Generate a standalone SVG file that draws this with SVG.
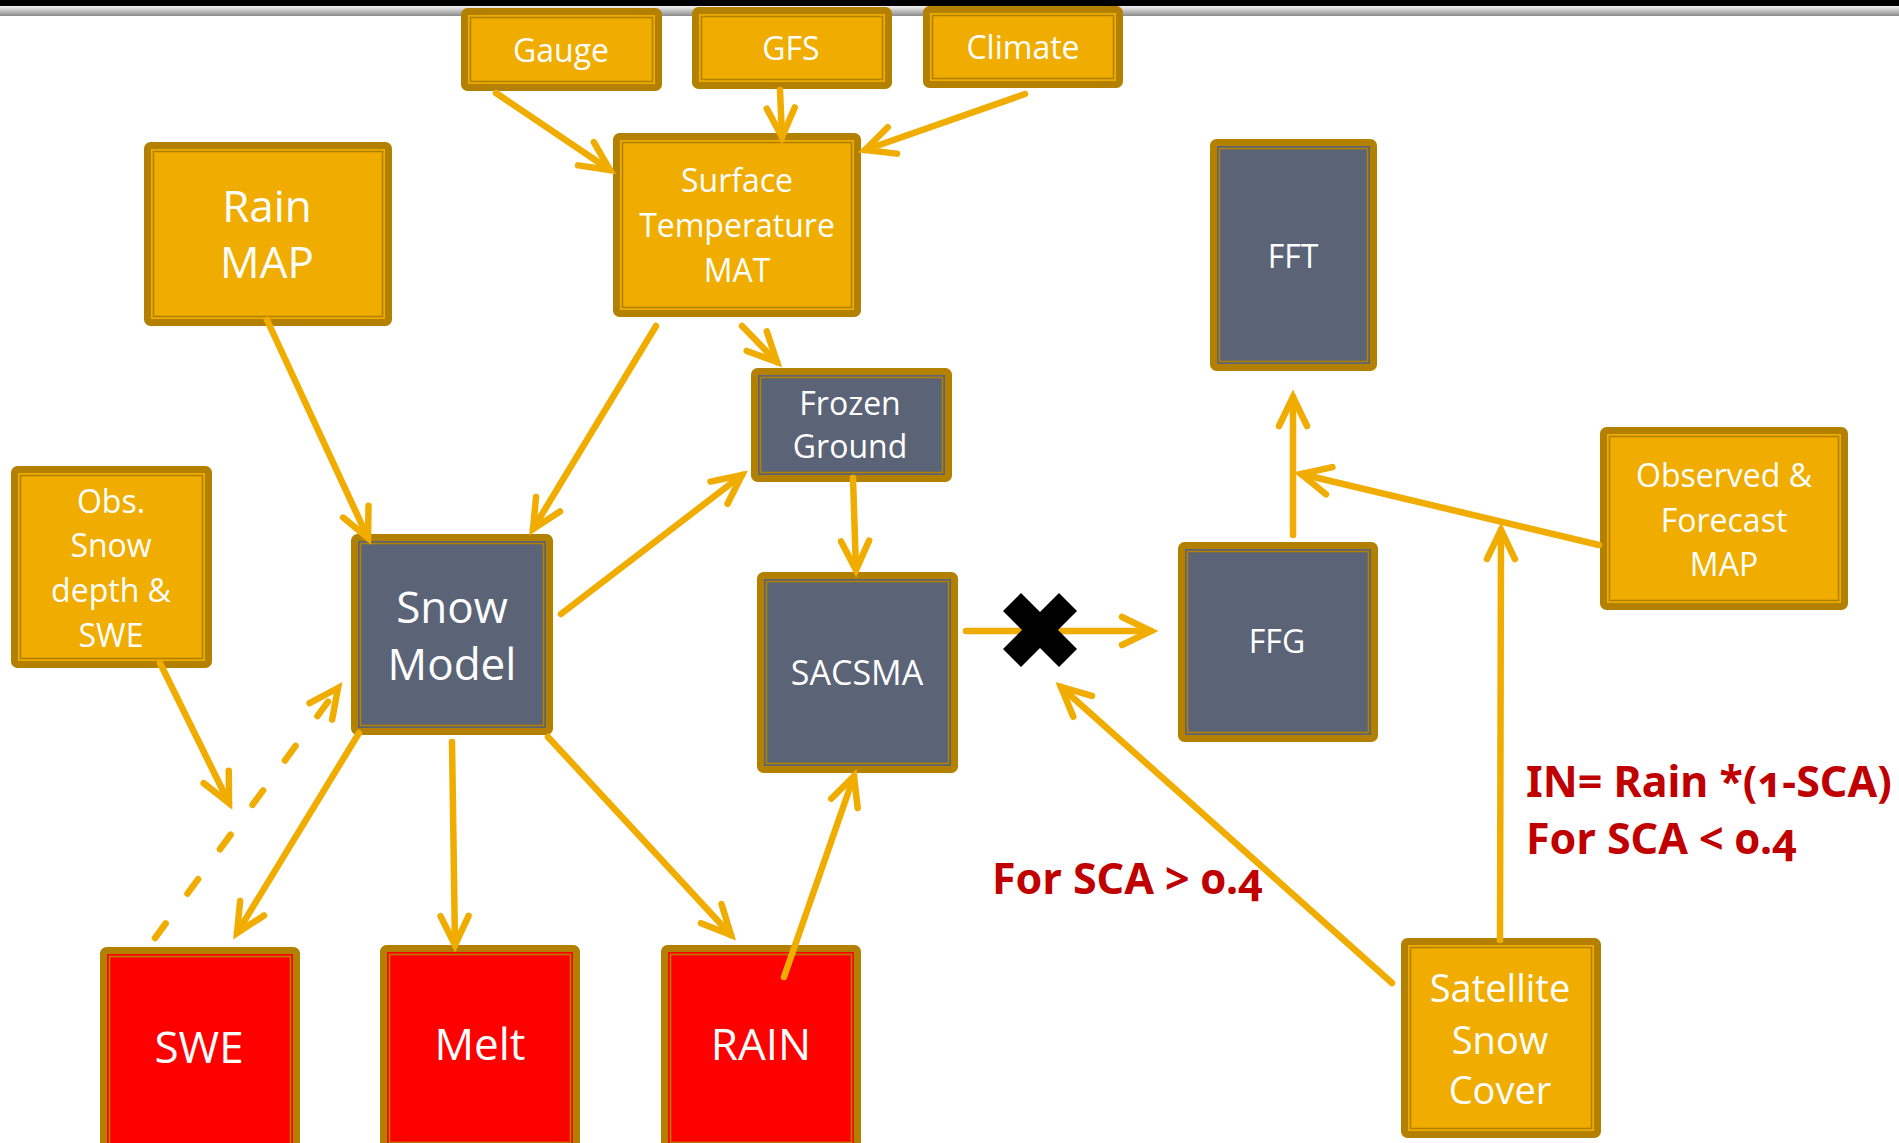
<svg xmlns="http://www.w3.org/2000/svg" width="1899" height="1143" viewBox="0 0 1899 1143">
<style>
.ob{stroke:#B38000;stroke-width:7}
.fo{fill:#F0AD00}.fg{fill:#5B6377}.fr{fill:#FF0000}
.in{fill:none;stroke:#B38000;stroke-width:1.6}
.t{font-family:"Open Sans","Noto Sans",sans-serif;fill:#FFFFFF;text-anchor:middle}
.s32{font-size:32px}.s34{font-size:34px}.s38{font-size:38px}.s44{font-size:44px}
.c{fill:none;stroke:#F0AD00;stroke-width:6.5;stroke-linecap:round;marker-end:url(#ah)}
.d{stroke-dasharray:18 37}
.lbl{font-family:"Noto Sans","Open Sans",sans-serif;font-weight:bold;fill:#C00000;font-size:43px;font-variant-numeric:oldstyle-nums}
</style>
<defs>
<linearGradient id="sh" x1="0" y1="0" x2="0" y2="1">
<stop offset="0" stop-color="#f4f4f4"/>
<stop offset="1" stop-color="#8a8a8a"/>
</linearGradient>
<marker id="ah" markerUnits="userSpaceOnUse" viewBox="-45 -30 60 60" refX="0" refY="0" markerWidth="60" markerHeight="60" orient="auto" overflow="visible">
<path d="M -29 -14 L 0 0 L -29 14" fill="none" stroke="#F0AD00" stroke-width="6.5" stroke-linecap="round" stroke-linejoin="miter"/>
</marker>
</defs>
<rect x="0" y="0" width="1899" height="1143" fill="#FFFFFF"/>
<rect x="0" y="6" width="1899" height="10" fill="url(#sh)"/>
<rect x="0" y="0" width="1899" height="6" fill="#000000"/>

<g id="gauge"><rect class="ob fo" x="464.5" y="11.5" width="194" height="76" rx="3"/><rect class="in" x="470.5" y="17.5" width="182" height="64"/><text class="t s32" x="561" y="62">Gauge</text></g>
<g id="gfs"><rect class="ob fo" x="695.5" y="10.5" width="193" height="75" rx="3"/><rect class="in" x="701.5" y="16.5" width="181" height="63"/><text class="t s32" x="791" y="60">GFS</text></g>
<g id="climate"><rect class="ob fo" x="926.5" y="9.5" width="193" height="75" rx="3"/><rect class="in" x="932.5" y="15.5" width="181" height="63"/><text class="t s32" x="1023" y="59">Climate</text></g>
<g id="surface"><rect class="ob fo" x="616.5" y="136.5" width="241" height="177" rx="3"/><rect class="in" x="622.5" y="142.5" width="229" height="165"/><text class="t s32" x="737" y="192">Surface</text><text class="t s32" x="737" y="237">Temperature</text><text class="t s32" x="737" y="282">MAT</text></g>
<g id="rainmap"><rect class="ob fo" x="147.5" y="145.5" width="241" height="177" rx="3"/><rect class="in" x="153.5" y="151.5" width="229" height="165"/><text class="t s44" x="267" y="222">Rain</text><text class="t s44" x="267" y="278">MAP</text></g>
<g id="fft"><rect class="ob fg" x="1213.5" y="142.5" width="160" height="225" rx="3"/><rect class="in" x="1219.5" y="148.5" width="148" height="213"/><text class="t s32" x="1293" y="268">FFT</text></g>
<g id="frozen"><rect class="ob fg" x="754.5" y="371.5" width="194" height="107" rx="3"/><rect class="in" x="760.5" y="377.5" width="182" height="95"/><text class="t s32" x="850" y="415">Frozen</text><text class="t s32" x="850" y="458">Ground</text></g>
<g id="obs"><rect class="ob fo" x="14.5" y="469.5" width="194" height="195" rx="3"/><rect class="in" x="20.5" y="475.5" width="182" height="183"/><text class="t s32" x="111" y="513">Obs.</text><text class="t s32" x="111" y="557">Snow</text><text class="t s32" x="111" y="602">depth &amp;</text><text class="t s32" x="111" y="647">SWE</text></g>
<g id="snowmodel"><rect class="ob fg" x="354.5" y="537.5" width="195" height="194" rx="3"/><rect class="in" x="360.5" y="543.5" width="183" height="182"/><text class="t s44" x="452" y="623">Snow</text><text class="t s44" x="452" y="680">Model</text></g>
<g id="sacsma"><rect class="ob fg" x="760.5" y="575.5" width="194" height="194" rx="3"/><rect class="in" x="766.5" y="581.5" width="182" height="182"/><text class="t s34" x="857" y="685">SACSMA</text></g>
<g id="ffg"><rect class="ob fg" x="1181.5" y="545.5" width="193" height="193" rx="3"/><rect class="in" x="1187.5" y="551.5" width="181" height="181"/><text class="t s32" x="1277" y="653">FFG</text></g>
<g id="observed"><rect class="ob fo" x="1603.5" y="430.5" width="241" height="176" rx="3"/><rect class="in" x="1609.5" y="436.5" width="229" height="164"/><text class="t s32" x="1724" y="487">Observed &amp;</text><text class="t s32" x="1724" y="532">Forecast</text><text class="t s32" x="1724" y="576">MAP</text></g>
<g id="satellite"><rect class="ob fo" x="1404.5" y="941.5" width="193" height="193" rx="3"/><rect class="in" x="1410.5" y="947.5" width="181" height="181"/><text class="t s38" x="1500" y="1002">Satellite</text><text class="t s38" x="1500" y="1054">Snow</text><text class="t s38" x="1500" y="1104">Cover</text></g>
<g id="swe"><rect class="ob fr" x="103.5" y="950.5" width="193" height="200" rx="3"/><rect class="in" x="109.5" y="956.5" width="181" height="188"/><text class="t s44" x="199" y="1063">SWE</text></g>
<g id="melt"><rect class="ob fr" x="383.5" y="948.5" width="193" height="200" rx="3"/><rect class="in" x="389.5" y="954.5" width="181" height="188"/><text class="t s44" x="480" y="1060">Melt</text></g>
<g id="rain"><rect class="ob fr" x="664.5" y="948.5" width="193" height="200" rx="3"/><rect class="in" x="670.5" y="954.5" width="181" height="188"/><text class="t s44" x="761" y="1060">RAIN</text></g>

<g id="connectors">
<path class="c" d="M496,93 L610,170"/>
<path class="c" d="M780,90 L782,137"/>
<path class="c" d="M1025,94 L865,150"/>
<path class="c" d="M267,320 L368,538"/>
<path class="c" d="M656,326 L533,529"/>
<path class="c" d="M742,326 L777,362"/>
<path class="c" d="M561,614 L742,475"/>
<path class="c" d="M853,478 L856,570"/>
<path class="c" d="M966,631 L1151,631"/>
<path class="c" d="M1392,983 L1061,687"/>
<path class="c" d="M1500,940 L1501,530"/>
<path class="c" d="M1599,545 L1301,474"/>
<path class="c" d="M1293,535 L1293,397"/>
<path class="c" d="M160,663 L229,803"/>
<path class="c d" d="M155,938 L338,688"/>
<path class="c" d="M359,733 L237,933"/>
<path class="c" d="M452,742 L455,945"/>
<path class="c" d="M548,737 L731,935"/>
<path class="c" d="M784,977 L854,776"/>
</g>

<g id="xmark"><polygon fill="#000000" points="1021,593 1040,612 1059,593 1077,611 1058,630 1077,649 1059,667 1040,648 1021,667 1003,649 1022,630 1003,611"/></g>

<g id="labels">
<text class="lbl" x="992" y="894">For SCA &gt; 0.4</text>
<text class="lbl" x="1526" y="797">IN= Rain *(1-SCA)</text>
<text class="lbl" x="1526" y="854">For SCA &lt; 0.4</text>
</g>
</svg>
